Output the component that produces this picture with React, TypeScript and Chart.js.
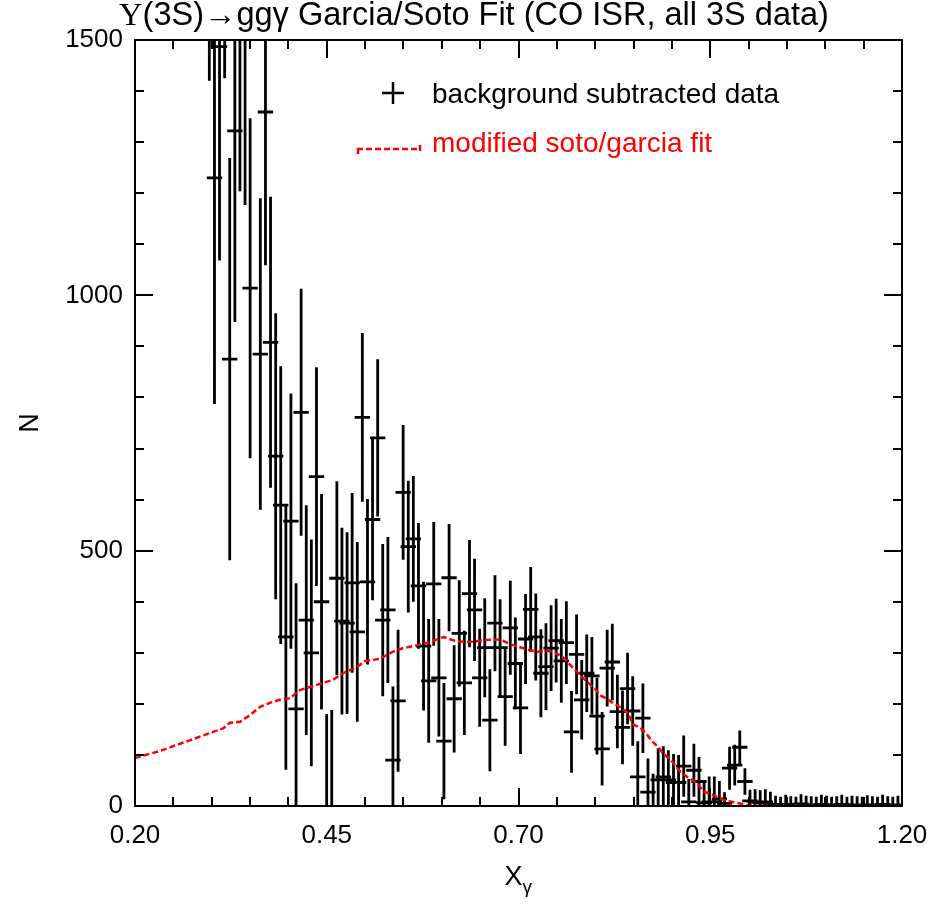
import React, { useEffect, useRef } from 'react';
import { Chart, registerables } from 'chart.js';

Chart.register(...registerables);

// Photon-energy bins (X_gamma bin centres)
const binCenters = [
  0.2969, 0.3036, 0.3102, 0.3169, 0.3235, 0.3302, 0.3368, 0.3435, 0.3501, 0.3568,
  0.3634, 0.3701, 0.3767, 0.3834, 0.3900, 0.3967, 0.4033, 0.4100, 0.4166, 0.4233,
  0.4299, 0.4366, 0.4432, 0.4499, 0.4565, 0.4632, 0.4698, 0.4765, 0.4831, 0.4898,
  0.4964, 0.5031, 0.5097, 0.5164, 0.5230, 0.5297, 0.5363, 0.5430, 0.5496, 0.5563,
  0.5629, 0.5696, 0.5762, 0.5829, 0.5895, 0.5962, 0.6028, 0.6095, 0.6161, 0.6228,
  0.6294, 0.6361, 0.6427, 0.6494, 0.6560, 0.6627, 0.6693, 0.6760, 0.6826, 0.6893,
  0.6959, 0.7026, 0.7092, 0.7159, 0.7225, 0.7292, 0.7358, 0.7425, 0.7491, 0.7558,
  0.7624, 0.7691, 0.7757, 0.7824, 0.7890, 0.7957, 0.8023, 0.8090, 0.8156, 0.8223,
  0.8289, 0.8356, 0.8422, 0.8489, 0.8555, 0.8622, 0.8688, 0.8755, 0.8821, 0.8888,
  0.8954, 0.9021, 0.9087, 0.9154, 0.9220, 0.9287, 0.9353, 0.9420, 0.9486, 0.9553,
  0.9619, 0.9686, 0.9752, 0.9819, 0.9885, 0.9952, 1.0018, 1.0085, 1.0151, 1.0218,
  1.0284, 1.0351, 1.0417, 1.0484, 1.0550, 1.0617, 1.0683, 1.0750, 1.0816, 1.0883,
  1.0949, 1.1016, 1.1082, 1.1149, 1.1215, 1.1282, 1.1348, 1.1415, 1.1481, 1.1548,
  1.1614, 1.1681, 1.1747, 1.1814, 1.1880, 1.1947,
];

// Background-subtracted counts per bin
const counts = [
  1720, 1230, 1487, 1810, 875, 1322, 1560, 1540, 1014, 1900,
  885, 1359, 908, 685, 589, 331, 558, 190, 771, 364,
  300, 645, 400, -20, -10, 446, 362, 358, 437, 341,
  761, 439, 561, 721, 364, 384, 90, 206, 614, 508,
  523, 431, 313, 245, 435, 251, 127, 447, 210, 338,
  241, 416, 384, 251, 310, 168, 358, 310, 214, 349,
  279, 192, 327, 385, 331, 260, 273, 309, 324, 284,
  320, 145, 297, 208, 260, 255, 176, 112, 270, 282,
  185, 154, 230, 186, 57, 172, 27, -3, 51, 57,
  51, 46, 46, 78, 8, 70, 48, 6, 8, 8,
  14, 5, 74, 80, 115, 48, 10, 8, 6, 8,
  3, 2, 0, 3, 1, 0, 4, 2, 1, 0,
  3, 2, 0, 1, 3, 0, 2, 1, 0, 2,
  1, 0, 3, 1, 0, 2,
];

// Statistical uncertainty per bin
const errors = [
  300, 443, 419, 385, 394, 374, 356, 363, 333, 340,
  305, 300, 285, 280, 272, 260, 250, 246, 242, 225,
  222, 214, 211, 200, 198, 190, 183, 178, 176, 176,
  165, 162, 158, 154, 149, 143, 144, 139, 132, 129,
  123, 123, 126, 121, 121, 115, 114, 105, 105, 104,
  102, 105, 100, 96, 97, 100, 94, 95, 96, 92,
  90, 90, 88, 83, 85, 86, 85, 84, 82, 82,
  81, 80, 78, 78, 76, 76, 75, 72, 75, 75,
  72, 72, 70, 68, 70, 68, 66, 66, 62, 60,
  58, 56, 54, 60, 45, 52, 48, 45, 50, 50,
  35, 22, 42, 40, 33, 26, 22, 25, 25, 25,
  25, 18, 18, 19, 18, 18, 19, 18, 18, 18,
  19, 18, 18, 18, 19, 18, 18, 18, 18, 19,
  18, 18, 19, 18, 18, 18,
];

const binHalfWidth = 0.01;

// Modified Soto/Garcia fit curve
const fitX = [
  0.200, 0.233, 0.272, 0.298, 0.315, 0.324, 0.337, 0.350, 0.363, 0.376,
  0.389, 0.402, 0.415, 0.428, 0.445, 0.458, 0.471, 0.489, 0.500, 0.519,
  0.536, 0.549, 0.568, 0.585, 0.602, 0.620, 0.637, 0.654, 0.676, 0.689,
  0.702, 0.715, 0.724, 0.737, 0.748, 0.757, 0.765, 0.778, 0.791, 0.800,
  0.806, 0.815, 0.823, 0.832, 0.843, 0.849, 0.859, 0.868, 0.874, 0.881,
  0.887, 0.894, 0.901, 0.911, 0.920, 0.933, 0.941, 0.954, 0.967, 0.985,
  0.998, 1.015, 1.200,
];
const fitY = [
  94, 108, 129, 143, 152, 163, 165, 178, 194, 202,
  208, 211, 227, 233, 241, 247, 260, 272, 284, 288,
  302, 309, 315, 321, 331, 322, 321, 325, 326, 317,
  311, 305, 302, 304, 300, 292, 280, 260, 241, 229,
  217, 210, 202, 194, 182, 160, 153, 139, 127, 117,
  106, 96, 86, 67, 57, 45, 29, 21, 12, 6,
  2, 0, 0,
];

// Axis ticks
const xTickValues = [
  0.2, 0.25, 0.3, 0.35, 0.4, 0.45, 0.5, 0.55, 0.6, 0.65, 0.7,
  0.75, 0.8, 0.85, 0.9, 0.95, 1.0, 1.05, 1.1, 1.15, 1.2,
];
const xMajorValues = [0.2, 0.45, 0.7, 0.95, 1.2];
const xMajorLabels = ['0.20', '0.45', '0.70', '0.95', '1.20'];
const yTickValues = [
  0, 100, 200, 300, 400, 500, 600, 700, 800, 900, 1000,
  1100, 1200, 1300, 1400, 1500,
];
const yMajorValues = [0, 500, 1000, 1500];
const yMajorLabels = ['0', '500', '1000', '1500'];

const titleSymbol = 'Υ';
const titleRest = '(3S)→ggγ Garcia/Soto Fit (CO ISR, all 3S data)';
const dataLabel = 'background subtracted data';
const fitLabel = 'modified soto/garcia fit';
const yTitle = 'N';
const xTitle = 'X';
const xTitleSub = 'γ';

const SANS = '"Liberation Sans", Arial, Helvetica, sans-serif';
const SERIF = '"Liberation Serif", "Times New Roman", serif';

const majorIndex = (list: number[], v: number) =>
  list.findIndex((m) => Math.abs(m - v) < 1e-6);

function buildErrorBars() {
  const pts: { x: number; y: number | null }[] = [];
  binCenters.forEach((x, i) => {
    const y = counts[i];
    const e = errors[i];
    pts.push({ x, y: y - e }, { x, y: y + e }, { x, y: null });
    pts.push({ x: x - binHalfWidth, y }, { x: x + binHalfWidth, y }, { x, y: null });
  });
  return pts;
}

const framePlugin = {
  id: 'frameAndText',
  afterDraw(chart: any) {
    const { ctx, chartArea: a, scales } = chart;
    const xs = scales.x;
    const ys = scales.y;
    ctx.save();

    // box and inward ticks on all four sides
    ctx.strokeStyle = '#000';
    ctx.lineWidth = 2;
    ctx.strokeRect(a.left, a.top, a.right - a.left, a.bottom - a.top);
    ctx.beginPath();
    xTickValues.forEach((v) => {
      const px = Math.round(xs.getPixelForValue(v));
      const len = majorIndex(xMajorValues, v) >= 0 ? 18 : 9;
      ctx.moveTo(px, a.bottom);
      ctx.lineTo(px, a.bottom - len);
      ctx.moveTo(px, a.top);
      ctx.lineTo(px, a.top + len);
    });
    yTickValues.forEach((v) => {
      const py = Math.round(ys.getPixelForValue(v));
      const len = majorIndex(yMajorValues, v) >= 0 ? 18 : 9;
      ctx.moveTo(a.left, py);
      ctx.lineTo(a.left + len, py);
      ctx.moveTo(a.right, py);
      ctx.lineTo(a.right - len, py);
    });
    ctx.stroke();

    // title
    ctx.fillStyle = '#000';
    ctx.textBaseline = 'alphabetic';
    const tSize = 32.5;
    ctx.font = `${tSize}px ${SERIF}`;
    const w1 = ctx.measureText(titleSymbol).width;
    ctx.font = `${tSize}px ${SANS}`;
    const w2 = ctx.measureText(titleRest).width;
    const tx = 474 - (w1 + w2) / 2;
    ctx.font = `${tSize}px ${SERIF}`;
    ctx.fillText(titleSymbol, tx, 25);
    ctx.font = `${tSize}px ${SANS}`;
    ctx.fillText(titleRest, tx + w1, 25);

    // y axis title (rotated)
    ctx.save();
    ctx.translate(38, (a.top + a.bottom) / 2);
    ctx.rotate(-Math.PI / 2);
    ctx.font = `27px ${SANS}`;
    ctx.textAlign = 'center';
    ctx.fillText(yTitle, 0, 0);
    ctx.restore();

    // x axis title with subscript
    ctx.font = `27px ${SANS}`;
    const xw = ctx.measureText(xTitle).width;
    const xc = (a.left + a.right) / 2;
    ctx.fillText(xTitle, xc - xw / 2 - 5, 885);
    ctx.font = `19px ${SANS}`;
    ctx.fillText(xTitleSub, xc + xw / 2 - 5, 893);

    // legend: data entry
    const lx = a.left + 258;
    ctx.lineWidth = 2.5;
    ctx.beginPath();
    ctx.moveTo(lx - 11, 93);
    ctx.lineTo(lx + 11, 93);
    ctx.moveTo(lx, 82);
    ctx.lineTo(lx, 104);
    ctx.stroke();
    ctx.font = `28px ${SANS}`;
    ctx.fillText(dataLabel, lx + 39, 103);

    // legend: fit entry
    ctx.strokeStyle = '#ff0000';
    ctx.fillStyle = '#ff0000';
    ctx.lineWidth = 2.5;
    ctx.setLineDash([6, 3]);
    ctx.beginPath();
    ctx.moveTo(lx - 36, 149);
    ctx.lineTo(lx + 28, 149);
    ctx.stroke();
    ctx.setLineDash([]);
    ctx.beginPath();
    ctx.moveTo(lx - 35, 148);
    ctx.lineTo(lx - 35, 154);
    ctx.moveTo(lx + 27, 145);
    ctx.lineTo(lx + 27, 151);
    ctx.stroke();
    ctx.fillText(fitLabel, lx + 39, 152);

    ctx.restore();
  },
};

export default function App() {
  const canvasRef = useRef<HTMLCanvasElement | null>(null);

  useEffect(() => {
    const canvas = canvasRef.current;
    if (!canvas) return;
    const chart = new Chart(canvas, {
      type: 'line',
      data: {
        datasets: [
          {
            label: fitLabel,
            data: fitX.map((x, i) => ({ x, y: fitY[i] })),
            borderColor: '#ff0000',
            borderWidth: 2.5,
            borderDash: [6, 3],
            pointRadius: 0,
            tension: 0,
            order: 0,
          },
          {
            label: dataLabel,
            data: buildErrorBars(),
            borderColor: '#000000',
            borderWidth: 2.8,
            borderCapStyle: 'butt',
            pointRadius: 0,
            tension: 0,
            spanGaps: false,
            order: 1,
          },
        ],
      },
      options: {
        responsive: false,
        devicePixelRatio: 1,
        animation: false,
        layout: { padding: { top: 40, right: 31, left: 0, bottom: 0 } },
        plugins: {
          legend: { display: false },
          title: { display: false },
          tooltip: { enabled: false },
        },
        scales: {
          x: {
            type: 'linear',
            min: 0.2,
            max: 1.2,
            afterBuildTicks: (s: any) => {
              s.ticks = xTickValues.map((value) => ({ value }));
            },
            afterFit: (s: any) => {
              s.height = 99;
              s.paddingLeft = 0;
              s.paddingRight = 0;
            },
            grid: { display: false, drawTicks: false },
            border: { display: false },
            ticks: {
              autoSkip: false,
              maxRotation: 0,
              minRotation: 0,
              padding: 14,
              color: '#000',
              font: { family: SANS, size: 26 },
              callback: (v: any) => {
                const k = majorIndex(xMajorValues, Number(v));
                return k >= 0 ? xMajorLabels[k] : '';
              },
            },
          },
          y: {
            type: 'linear',
            min: 0,
            max: 1500,
            afterBuildTicks: (s: any) => {
              s.ticks = yTickValues.map((value) => ({ value }));
            },
            afterFit: (s: any) => {
              s.width = 135;
              s.paddingTop = 0;
              s.paddingBottom = 0;
            },
            grid: { display: false, drawTicks: false },
            border: { display: false },
            ticks: {
              autoSkip: false,
              padding: 12,
              color: '#000',
              font: { family: SANS, size: 26 },
              callback: (v: any) => {
                const k = majorIndex(yMajorValues, Number(v));
                return k >= 0 ? yMajorLabels[k] : '';
              },
            },
          },
        },
      },
      plugins: [framePlugin],
    });
    return () => chart.destroy();
  }, []);

  return (
    <div
      style={{
        position: 'absolute',
        left: 0,
        top: 0,
        width: 933,
        height: 905,
        background: '#ffffff',
      }}
    >
      <canvas ref={canvasRef} width={933} height={905} />
    </div>
  );
}
